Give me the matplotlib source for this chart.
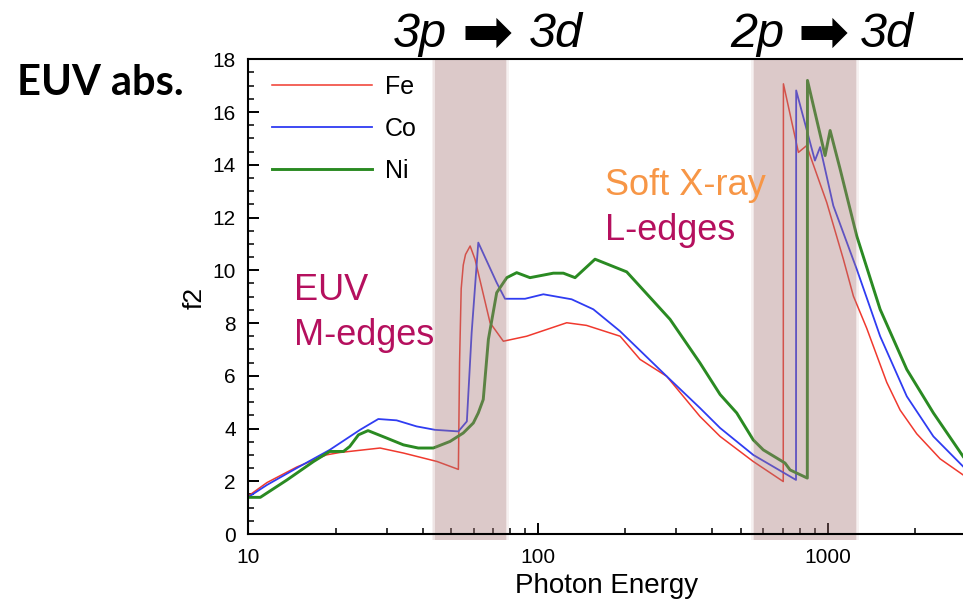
import matplotlib
matplotlib.use("Agg")
import matplotlib.pyplot as plt
from matplotlib.patches import Rectangle
from matplotlib.ticker import LogLocator, FixedLocator, MultipleLocator, NullFormatter

# ---- data: photon energy (eV) and f2 for the three 3d metals ----
fe_energy = [10, 11.6, 14.7, 18.6, 20.7, 28.5, 34.3, 44.8, 53.1, 53.6, 54.3, 55.2, 56.2, 58.3, 60.6,
             68.3, 75.9, 91.4, 125.6, 147, 192, 225, 278, 362, 425, 553, 702, 703,
             792, 846, 869, 992, 1132, 1226, 1363, 1598, 1777, 2028, 2442, 2932]
fe_f2 = [1.44, 1.95, 2.54, 3.00, 3.09, 3.26, 3.07, 2.75, 2.45, 6.5, 9.3, 10.2, 10.6, 10.92, 10.42,
         8.01, 7.31, 7.50, 8.01, 7.91, 7.50, 6.62, 5.98, 4.46, 3.70, 2.75, 1.99, 17.07,
         14.47, 14.73, 14.35, 12.57, 10.42, 9.02, 7.80, 5.75, 4.70, 3.80, 2.85, 2.24]

co_energy = [10, 11.6, 14.7, 19.1, 24.3, 28.1, 32.5, 38.1, 44.1, 53.1, 56.8, 59.0, 62.2,
             72.0, 76.9, 90.2, 104.3, 130.6, 155.2, 191.9, 278, 362, 425, 553, 777, 778,
             903, 941, 1045, 1259, 1516, 1874, 2315, 2932]
co_f2 = [1.40, 1.86, 2.50, 3.19, 3.95, 4.36, 4.31, 4.08, 3.95, 3.89, 4.27, 7.63, 11.05,
         9.53, 8.92, 8.92, 9.09, 8.90, 8.52, 7.69, 5.98, 4.78, 4.02, 3.00, 2.05, 16.82,
         14.16, 14.67, 12.45, 10.04, 7.50, 5.22, 3.70, 2.56]

ni_energy = [10, 11.0, 13.6, 16.8, 19.1, 21.3, 22.4, 24.0, 25.9, 30.0, 34.3, 38.6, 43.5, 49.7,
             55.2, 59.8, 62.2, 64.7, 67.4, 72.0, 78.0, 84.4, 93.8, 112.9, 122.3, 134.2, 157.3,
             202.3, 285.5, 362, 425, 485, 553, 599, 712, 741, 850, 851, 979, 1019, 1103,
             1259, 1516, 1874, 2315, 2932]
ni_f2 = [1.39, 1.39, 2.05, 2.75, 3.13, 3.13, 3.32, 3.76, 3.92, 3.64, 3.38, 3.26, 3.26, 3.51,
         3.83, 4.21, 4.59, 5.10, 7.38, 9.15, 9.72, 9.91, 9.72, 9.89, 9.89, 9.72, 10.42,
         9.94, 8.14, 6.49, 5.29, 4.59, 3.57, 3.19, 2.69, 2.43, 2.12, 17.20, 14.35, 15.30, 13.84,
         11.30, 8.52, 6.24, 4.59, 2.94]

series = [("Fe", fe_energy, fe_f2, "#f0392e", 1.1),
          ("Co", co_energy, co_f2, "#2f3cf2", 1.3),
          ("Ni", ni_energy, ni_f2, "#2a8a22", 2.1)]

# shaded absorption-edge windows (eV)
edge_bands = [(44.0, 77.5), (558.0, 1250.0)]
edge_labels = ["3p", "2p"]

x_ticks = [10, 100, 1000]
y_ticks = [0, 2, 4, 6, 8, 10, 12, 14, 16, 18]

W, H = 963, 604
fig = plt.figure(figsize=(W / 100, H / 100), dpi=100)
plt.rcParams["font.family"] = ["Liberation Sans", "DejaVu Sans"]


def fx(x):
    return x / W


def fy(y):
    return 1 - y / H


ax = fig.add_axes([fx(248.3), fy(534), fx(966) - fx(248.3), fy(59.3) - fy(534)])
ax.set_xscale("log")
ax.set_xlim(10, 3000)
ax.set_ylim(0, 18)

for name, e, f, c, lw in series:
    ax.plot(e, f, color=c, lw=lw, label=name, zorder=2, solid_joinstyle="round")

# translucent bands laid over the curves, with slightly soft edges
for lo, hi in edge_bands:
    ax.add_patch(Rectangle((lo, -0.012), hi - lo, 1.012, transform=ax.get_xaxis_transform(),
                           facecolor="#a87878", alpha=0.40, lw=0, zorder=2.2, clip_on=False))
    for k in (1.012, 1.024):
        lo2, hi2 = lo / k, hi * k
        ax.add_patch(Rectangle((lo2, -0.012), lo - lo2, 1.012, transform=ax.get_xaxis_transform(),
                               facecolor="#a87878", alpha=0.10, lw=0, zorder=2.2, clip_on=False))
        ax.add_patch(Rectangle((hi, -0.012), hi2 - hi, 1.012, transform=ax.get_xaxis_transform(),
                               facecolor="#a87878", alpha=0.10, lw=0, zorder=2.2, clip_on=False))

for s in ["left", "bottom", "top"]:
    ax.spines[s].set_linewidth(1.5)
    ax.spines[s].set_zorder(3)
ax.spines["right"].set_visible(False)

ax.xaxis.set_major_locator(FixedLocator(x_ticks))
ax.xaxis.set_minor_locator(LogLocator(base=10, subs=range(2, 10)))
ax.xaxis.set_minor_formatter(NullFormatter())
ax.set_xticklabels([str(t) for t in x_ticks])
ax.yaxis.set_major_locator(FixedLocator(y_ticks))
ax.yaxis.set_minor_locator(MultipleLocator(0.5))
ax.tick_params(which="major", direction="in", length=8, width=1.4, labelsize=15, pad=9,
               top=False, right=False)
ax.tick_params(which="minor", direction="in", length=4.3, width=1.1, top=False, right=False)
ax.tick_params(axis="x", which="major", pad=10)

fig.text(fx(607), fy(586), "Photon Energy", fontsize=20, ha="center", va="center")
fig.text(fx(195), fy(298), "f2", fontsize=19, ha="center", va="center", rotation=90)

leg = ax.legend(loc="upper left", bbox_to_anchor=(fx(272), fy(75)), bbox_transform=fig.transFigure,
                frameon=False, fontsize=18, handlelength=4.0, handletextpad=0.5,
                labelspacing=0.72, borderpad=0, borderaxespad=0)

# header annotations
fig.text(fx(17), fy(95), "EUV abs.", fontsize=30, fontweight="bold", family="Lato",
         ha="left", va="baseline")
for lbl, (x0, xa, x1) in zip(edge_labels, [(393, 487, 583), (730, 823, 914)]):
    fig.text(fx(x0), fy(47), lbl, fontsize=35, style="italic", ha="left", va="baseline")
    fig.text(fx(xa), fy(35), "\u27a1", fontsize=44, family="DejaVu Sans",
             ha="center", va="center")
    fig.text(fx(x1), fy(47), "3d", fontsize=35, style="italic", ha="right", va="baseline")

crimson = "#b5105e"
orange = "#f79646"
fig.text(fx(294), fy(300), "EUV", fontsize=26, color=crimson, ha="left", va="baseline")
fig.text(fx(294), fy(345), "M-edges", fontsize=26, color=crimson, ha="left", va="baseline")
fig.text(fx(605), fy(195), "Soft X-ray", fontsize=26, color=orange, ha="left", va="baseline")
fig.text(fx(605), fy(240), "L-edges", fontsize=26, color=crimson, ha="left", va="baseline")

fig.savefig("out.png", dpi=100)
